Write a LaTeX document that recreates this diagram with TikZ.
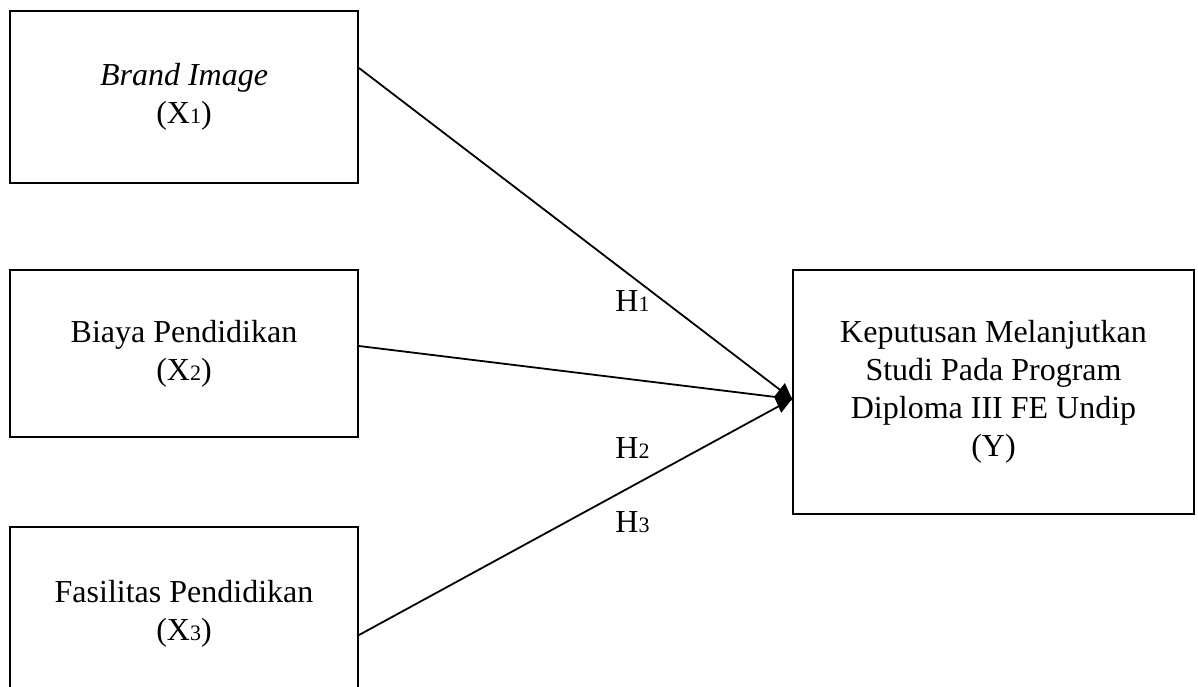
\documentclass[tikz,border=0pt]{standalone}
\usepackage{fontspec}
\setmainfont{Liberation Serif}
\usetikzlibrary{arrows.meta}
\newcommand\smallidx[1]{{\fontsize{11}{11}\selectfont #1}}
\begin{document}
\begin{tikzpicture}[x=0.5pt,y=-0.5pt,
  box/.style={draw, line width=1pt, inner sep=0pt, align=center, font=\fontsize{16}{19}\selectfont},
  link/.style={line width=0.9pt},
  hlabel/.style={anchor=base west, inner sep=0pt, font=\fontsize{16}{19}\selectfont}]
\clip (0,0) rectangle (1198,686);
\fill[white] (0,0) rectangle (1198,686);
\node[box, minimum width=174pt, minimum height=86pt] (b1) at (184,97) {\textit{Brand Image}\\(X\smallidx{1})};
\node[box, minimum width=174pt, minimum height=83.5pt] (b2) at (184,353.5) {Biaya Pendidikan\\(X\smallidx{2})};
\node[box, minimum width=174pt, minimum height=87pt] (b3) at (184,614) {Fasilitas Pendidikan\\(X\smallidx{3})};
\node[box, minimum width=200.5pt, minimum height=122pt] (y) at (993.5,392) {Keputusan Melanjutkan\\Studi Pada Program\\Diploma III FE Undip\\(Y)};
\coordinate (tip) at (y.west |- 0,399);
\draw[link] (b1.east |- 0,68) -- (tip);
\draw[link] (b3.east |- 0,635) -- (tip);
\draw[link, -{Kite[length=9pt,width=15pt,inset=4.5pt]}] (b2.east |- 0,346) -- (tip);
\node[hlabel] (h1) at (615,311) {H\smallidx{1}};
\node[hlabel] (h2) at (615,458) {H\smallidx{2}};
\node[hlabel] (h3) at (615,532) {H\smallidx{3}};
\end{tikzpicture}
\end{document}
